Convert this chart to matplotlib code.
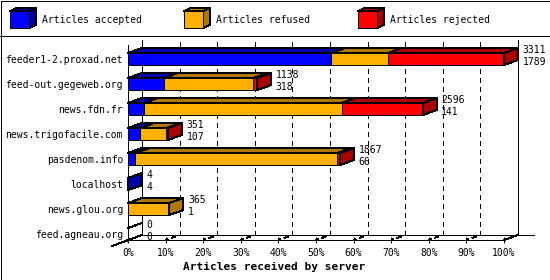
import matplotlib
matplotlib.use("Agg")
import matplotlib.pyplot as plt
import matplotlib.transforms as mtransforms
from matplotlib.patches import Polygon
from matplotlib.lines import Line2D
import numpy as np

# ---- data ----
servers = ["feeder1-2.proxad.net", "feed-out.gegeweb.org", "news.fdn.fr",
           "news.trigofacile.com", "pasdenom.info", "localhost",
           "news.glou.org", "feed.agneau.org"]
accepted = [1789, 318, 141, 107, 66, 4, 1, 0]
refused = [500, 785, 1740, 230, 1775, 0, 364, 0]
rejected = [1022, 35, 715, 14, 26, 0, 0, 0]
series_names = ["Articles accepted", "Articles refused", "Articles rejected"]
x_ticks = list(range(0, 101, 10))
x_title = "Articles received by server"

# ---- style ----
plt.rcParams['font.family'] = ['DejaVu Sans Mono']
plt.rcParams['lines.scale_dashes'] = False
plt.rcParams['lines.antialiased'] = False
plt.rcParams['patch.antialiased'] = False
W, H, DPI = 550, 280, 100
front_cols = ["#0000FF", "#FFB000", "#FF0000"]
dark_cols = ["#0000AA", "#B07800", "#AA0000"]
DX, DY = 14, 5          # 3d depth in pixels
LW = 0.72
IDT = mtransforms.IdentityTransform()

fig = plt.figure(figsize=(W / DPI, H / DPI), dpi=DPI)
fig.patch.set_facecolor("white")


def px(x, y):
    return (x, H - y)


def fig_line(xs, ys, **kw):
    pts = [px(x, y) for x, y in zip(xs, ys)]
    l = Line2D([p[0] for p in pts], [p[1] for p in pts], transform=IDT,
               color="black", lw=kw.pop("lw", LW), antialiased=False, **kw)
    fig.add_artist(l)


# image border and legend separator
fig_line([0.5, 549.5, 549.5, 0.5, 0.5], [0.5, 0.5, 279.5, 279.5, 0.5])
fig_line([0, 550], [35.5, 35.5])

# legend cubes
leg_x = [10, 184, 358]
for k, name in enumerate(series_names):
    x0 = leg_x[k]
    top = [px(x0, 11), px(x0 + 19, 11), px(x0 + 26, 8), px(x0 + 7, 8)]
    side = [px(x0 + 19, 11), px(x0 + 26, 8), px(x0 + 26, 25), px(x0 + 19, 28)]
    front = [px(x0, 11), px(x0 + 19, 11), px(x0 + 19, 28), px(x0, 28)]
    for poly, c in ((top, dark_cols[k]), (side, dark_cols[k]), (front, front_cols[k])):
        fig.add_artist(Polygon(poly, closed=True, facecolor=c, edgecolor="black",
                               lw=LW, transform=IDT, antialiased=False))
    fig.text(x0 + 32, H - 20, name, transform=IDT, fontsize=7,
             va="center", ha="left")

# ---- axes (front plane) ----
n = len(servers)
ax = fig.add_axes([128 / W, (H - 240) / H, 376 / W, 195 / H])
ax.set_xlim(0, 100)
ax.set_ylim(n - 1 + 0.24, -0.56)
ax.patch.set_visible(False)
for s in ax.spines.values():
    s.set_visible(False)
ax.set_xticks(x_ticks)
ax.set_xticklabels([f"{t}%" for t in x_ticks])
ax.set_yticks(range(n))
ax.set_yticklabels(servers)
ax.tick_params(axis="x", direction="inout", length=5, width=LW, labelsize=7, pad=3.2)
ax.tick_params(axis="y", length=0, labelsize=7, pad=3.6)

off = mtransforms.ScaledTranslation(DX / DPI, DY / DPI, fig.dpi_scale_trans)

# back wall gridlines
for t in x_ticks[1:-1]:
    ax.plot([t, t], [0, 1], transform=ax.get_xaxis_transform() + off,
            color="black", lw=LW, ls=(0, (2.9, 2.9)), clip_on=False, zorder=0.5)

# frame lines
ax.plot([0, 0], [0, 1], transform=ax.transAxes, color="black", lw=LW, clip_on=False, zorder=1)
ax.plot([0, 1], [0, 0], transform=ax.transAxes, color="black", lw=LW, clip_on=False, zorder=1)
ax.plot([0, 0], [0, 1], transform=ax.transAxes + off, color="black", lw=LW, clip_on=False, zorder=1)
ax.plot([1, 1], [0, 1], transform=ax.transAxes + off, color="black", lw=LW, clip_on=False, zorder=1)
ax.plot([0, 1 + 16 / 376], [0, 0], transform=ax.transAxes + off, color="black", lw=LW,
        clip_on=False, zorder=1)

fig.canvas.draw()
p00 = ax.transAxes.transform((0, 0))
p10 = ax.transAxes.transform((1, 0))
fig.add_artist(Line2D([p00[0] - 16, p00[0] + DX], [p00[1] - 6, p00[1] + DY],
                      transform=IDT, color="black", lw=LW))
fig.add_artist(Line2D([p10[0], p10[0] + DX], [p10[1], p10[1] + DY],
                      transform=IDT, color="black", lw=LW))
# floor tick marks
for t in x_ticks[1:-1]:
    p = ax.transData.transform((t, n - 1 + 0.24))
    fig.add_artist(Line2D([p[0], p[0] + DX], [p[1], p[1] + DY], transform=IDT,
                          color="black", lw=LW, ls=(0, (2.0, 2.5, 3.5, 20))))

# ---- bars ----
totals = [a + r + j for a, r, j in zip(accepted, refused, rejected)]
max_total = max(totals)
bh = 0.48
T = ax.transData
for i in range(n):
    vals = [accepted[i], refused[i], rejected[i]]
    pcts = [v * 100 / max_total for v in vals]
    left = 0.0
    last_col = None
    for k, w in enumerate(pcts):
        if w <= 0:
            continue
        ax.barh(i, w, left=left, height=bh, color=front_cols[k], edgecolor="black",
                lw=LW, zorder=3)
        a = T.transform((left, i - bh / 2))
        b = T.transform((left + w, i - bh / 2))
        top = [a, b, (b[0] + DX, b[1] + DY), (a[0] + DX, a[1] + DY)]
        fig.add_artist(Polygon(top, closed=True, facecolor=dark_cols[k],
                               edgecolor="black", lw=LW, transform=IDT, zorder=3))
        left += w
        last_col = dark_cols[k]
    if last_col is None:
        a = T.transform((0, i - bh / 2))
        fig.add_artist(Line2D([a[0], a[0] + DX], [a[1], a[1] + DY], transform=IDT,
                              color="black", lw=LW))
    else:
        a = T.transform((left, i - bh / 2))
        b = T.transform((left, i + bh / 2))
        side = [a, (a[0] + DX, a[1] + DY), (b[0] + DX, b[1] + DY), b]
        fig.add_artist(Polygon(side, closed=True, facecolor=last_col,
                               edgecolor="black", lw=LW, transform=IDT, zorder=3))
    ax.annotate(f"{totals[i]}\n{accepted[i]}", xy=(left, i),
                xytext=(18.5 * 0.72, 3 * 0.72), textcoords="offset points",
                ha="left", va="center", fontsize=7, annotation_clip=False,
                linespacing=1.15)

fig.text(274, H - 267, x_title, transform=IDT, fontsize=8, fontweight="bold",
         ha="center", va="center")

fig.savefig("out.png", dpi=DPI, facecolor="white")
